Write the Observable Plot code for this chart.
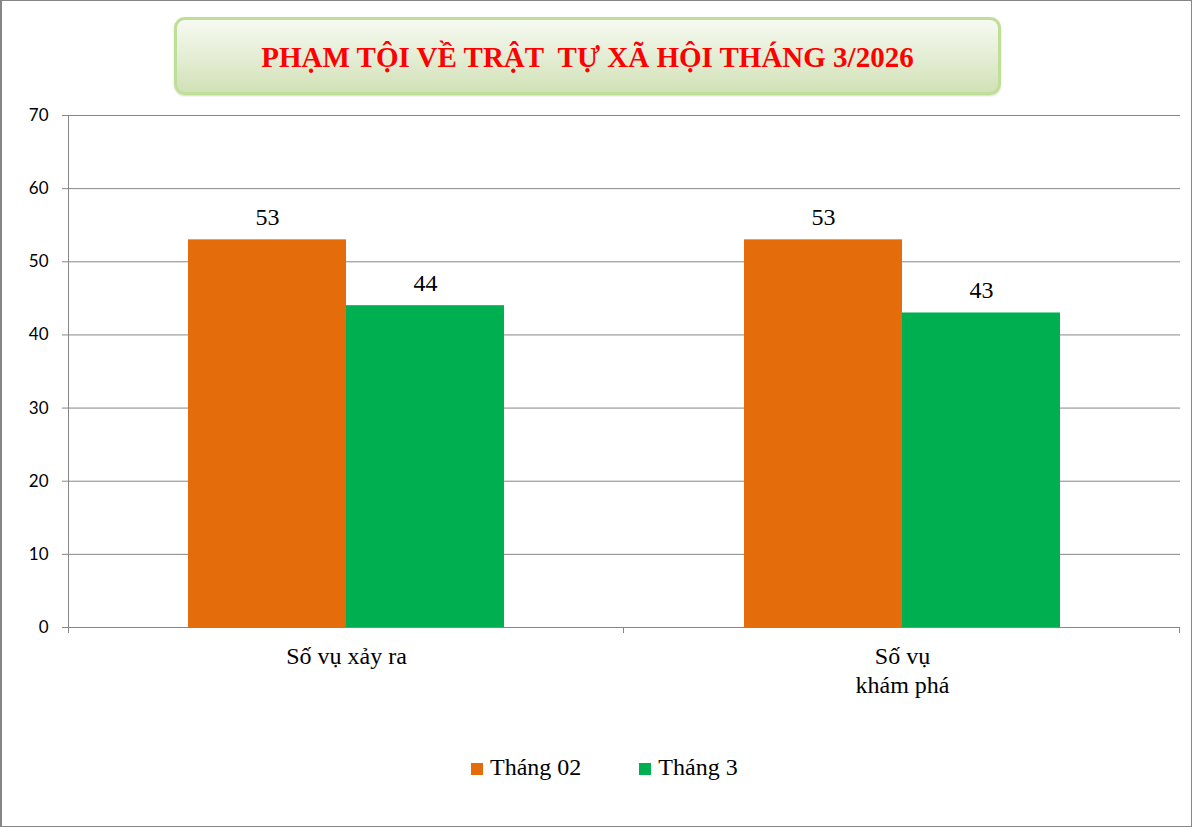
<!DOCTYPE html>
<html>
<head>
<meta charset="utf-8">
<script src="https://cdn.jsdelivr.net/npm/d3@7"></script>
<script src="https://cdn.jsdelivr.net/npm/@observablehq/plot@0.6"></script>
<style>
  html, body { margin: 0; padding: 0; background: #fff; }
  #chart { position: relative; width: 1192px; height: 827px; overflow: hidden; background: #fff; }
  #border { position: absolute; left: 0; top: 0; width: 1192px; height: 827px; box-sizing: border-box;
    border: 1px solid #868686; border-left-width: 2px; pointer-events: none; }
  #title { position: absolute; left: 174px; top: 17px; width: 827px; height: 78px; box-sizing: border-box;
    border: 3px solid #bfdf98; border-radius: 11px;
    background: linear-gradient(to bottom, #f6faf1 0%, #e6efd8 45%, #d2e1b6 100%);
    box-shadow: 0 1px 2px rgba(120,150,90,0.35);
    display: flex; align-items: center; justify-content: center;
    font-family: "Liberation Serif", "Times New Roman", serif; font-weight: bold; font-size: 29px;
    color: #ff0000; white-space: pre; padding-top: 2px; }
  #plot { position: absolute; left: 0; top: 100px; }
  #legend { position: absolute; left: 471px; top: 754px; display: flex; align-items: center;
    font-family: "Liberation Serif", "Times New Roman", serif; font-size: 24px; color: #000; }
  .item { display: flex; align-items: center; }
  .sw { width: 12px; height: 12px; margin-right: 7px; margin-top: 2px; }
  svg text.serif { font-family: "Liberation Serif", "Times New Roman", serif; }
</style>
</head>
<body>
<div id="chart">
  <div id="title"></div>
  <div id="plot"></div>
  <div id="legend"></div>
  <div id="border"></div>
</div>
<script>
const titleText = "PHẠM TỘI VỀ TRẬT  TỰ XÃ HỘI THÁNG 3/2026";
const categories = ["Số vụ xảy ra", "Số vụ\nkhám phá"];
const series = ["Tháng 02", "Tháng 3"];
const colors = ["#E46C0A", "#00B050"];
const valuesThang02 = [53, 53];
const valuesThang3 = [44, 43];
const yTicks = [0, 10, 20, 30, 40, 50, 60, 70];

document.getElementById("title").textContent = titleText;

const data = [];
categories.forEach((c, i) => {
  data.push({category: c, series: series[0], value: valuesThang02[i]});
  data.push({category: c, series: series[1], value: valuesThang3[i]});
});

const serif = '"Liberation Serif", "Times New Roman", serif';
const grid = "#868686";

const plot = Plot.plot({
  width: 1192,
  height: 640,
  marginTop: 15,
  marginLeft: 68,
  marginRight: 12,
  marginBottom: 113,
  style: {background: "transparent", overflow: "visible"},
  fx: {domain: categories, paddingInner: 0, paddingOuter: 0, axis: null, label: null},
  x: {domain: series, paddingInner: 0, paddingOuter: 0.754, axis: null, label: null},
  y: {domain: [0, 70], label: null},
  color: {domain: series, range: colors},
  marks: [
    Plot.gridY(yTicks, {stroke: grid, strokeOpacity: 1, strokeWidth: 1}),
    Plot.axisY(yTicks, {
      stroke: grid, fill: "#000", tickSize: 6, tickPadding: 14,
      fontSize: 17, fontFamily: "Lato, Calibri, sans-serif", label: null
    }),
    Plot.barY(data, {fx: "category", x: "series", y: "value", fill: "series"}),
    Plot.ruleY([0], {stroke: grid, strokeWidth: 1}),
    Plot.text(data, {
      fx: "category", x: "series", y: "value", text: d => String(d.value),
      lineAnchor: "bottom", dy: -15, fontSize: 24, fontFamily: serif, fill: "#000",
      className: "serif"
    }),
    Plot.text(categories, {
      fx: d => d, text: d => d, frameAnchor: "bottom", lineAnchor: "top", dy: 17,
      lineHeight: 1.17, fontSize: 24, fontFamily: serif, fill: "#000",
      className: "serif"
    })
  ]
});

// axis line and category separator ticks derived from the plot's scales
const fx = plot.scale("fx");
const y = plot.scale("y");
const svg = d3.select(plot);
const g = svg.append("g").attr("stroke", grid).attr("stroke-width", 1);
const y0 = y.apply(0), yTop = y.apply(70);
const edges = categories.map(c => fx.apply(c)).concat([fx.apply(categories[categories.length - 1]) + fx.bandwidth]);
g.append("line").attr("x1", edges[0] + 0.5).attr("x2", edges[0] + 0.5).attr("y1", yTop).attr("y2", y0 + 6);
edges.slice(1).forEach(e => {
  g.append("line").attr("x1", e - 0.5).attr("x2", e - 0.5).attr("y1", y0).attr("y2", y0 + 6);
});

document.getElementById("plot").appendChild(plot);

const legend = d3.select("#legend");
series.forEach((s, i) => {
  const it = legend.append("div").attr("class", "item").style("margin-right", i === 0 ? "58px" : "0");
  it.append("div").attr("class", "sw").style("background", colors[i]);
  it.append("span").text(s);
});
</script>
</body>
</html>
